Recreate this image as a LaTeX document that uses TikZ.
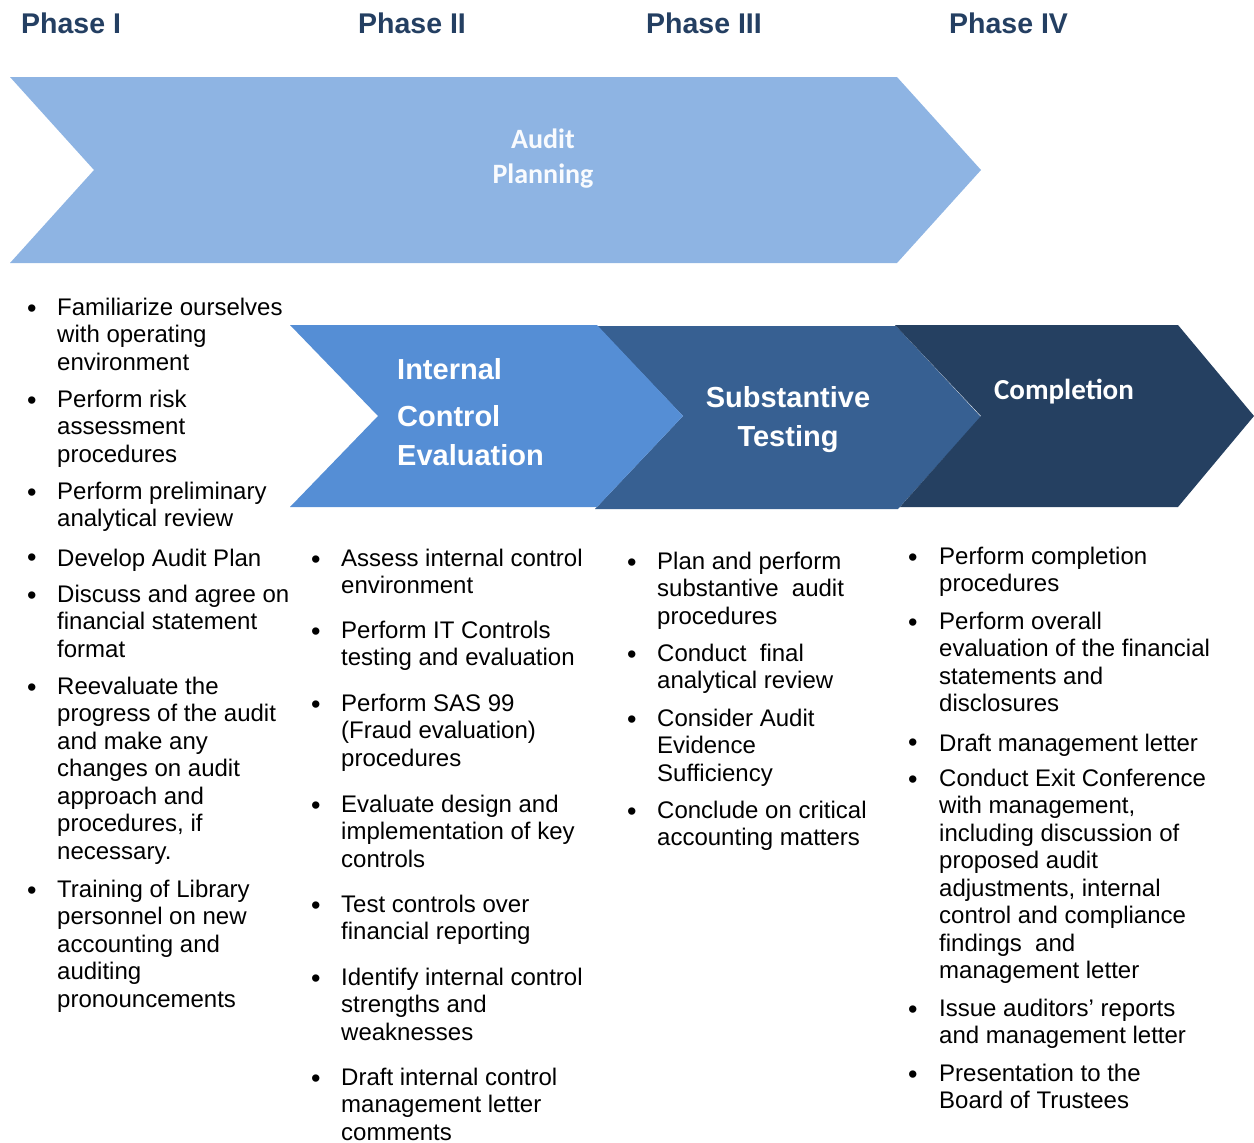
\documentclass[tikz,border=0pt]{standalone}
\usepackage{fontspec}
\setmainfont{Liberation Sans}
\newfontfamily\calibri{Carlito}
\usepackage{tikz}

\definecolor{plancol}{HTML}{8EB4E3}
\definecolor{icecol}{HTML}{558ED5}
\definecolor{subcol}{HTML}{376092}
\definecolor{compcol}{HTML}{254061}
\definecolor{phasecol}{HTML}{243F62}

\begin{document}
\begin{tikzpicture}[x=1pt, y=-1pt,
    phase/.style={anchor=base west, inner sep=0pt, text=phasecol, font=\fontsize{28.5}{34}\selectfont\bfseries},
    bul/.style={anchor=base west, inner sep=0pt, yshift=-2pt, xshift=1pt, font=\fontsize{27}{27.5}\selectfont},
    itm/.style={anchor=north west, yshift=17.25pt, xshift=1pt, inner sep=0pt, align=left, font=\fontsize{24}{27.5}\selectfont, execute at begin node=\strut},
    title/.style={inner sep=0pt, text=white, font=\fontsize{29}{39}\selectfont\bfseries}]
  \useasboundingbox (0,0) rectangle (1254,1143);

  %Define chevrons
  \fill[plancol] (10,77) -- (897,77) -- (981,170) -- (897,263) -- (10,263) -- (94,170) -- cycle;
  \fill[subcol] (597,326) -- (896,326) -- (981,417) -- (898,509) -- (595,509) -- (683,416) -- cycle;
  \fill[icecol] (290,325) -- (597,325) -- (683,416) -- (597,507) -- (290,507) -- (378,416) -- cycle;
  \fill[compcol] (895,325) -- (1178,325) -- (1254,416) -- (1178,507) -- (900,507) -- (981,416) -- cycle;

  % Chevron titles
  \node[title, align=center, text=white!95!plancol, font=\fontsize{28}{35}\selectfont\calibri\bfseries] (plan) at (543,159) {Audit\\Planning};
  \node[title, anchor=base west, align=left] (ice) at (397,465) {Internal\\[8pt]Control\\Evaluation};
  \node[title, align=center] (sub) at (788,420) {Substantive\\Testing};
  \node[title, font=\fontsize{29}{35}\selectfont\calibri\bfseries] (comp) at (1064,392) {Completion};

  % Phase titles
  \node[phase] (ph1) at (21,34) {Phase I};
  \node[phase] (ph2) at (358,34) {Phase II};
  \node[phase] (ph3) at (646,34) {Phase III};
  \node[phase] (ph4) at (949,34) {Phase IV};

  % Phase I tasks
  \node[bul] (b11) at (26,315) {\textbullet};
  \node[itm] (t11) at (56,315) {Familiarize ourselves\\with operating\\environment};
  \node[bul] (b12) at (26,407) {\textbullet};
  \node[itm] (t12) at (56,407) {Perform risk\\assessment\\procedures};
  \node[bul] (b13) at (26,499) {\textbullet};
  \node[itm] (t13) at (56,499) {Perform preliminary\\analytical review};
  \node[bul] (b14) at (26,564) {\textbullet};
  \node[itm] (t14) at (56,564) {Develop Audit Plan};
  \node[bul] (b15) at (26,602) {\textbullet};
  \node[itm] (t15) at (56,602) {Discuss and agree on\\financial statement\\format};
  \node[bul] (b16) at (26,694) {\textbullet};
  \node[itm] (t16) at (56,694) {Reevaluate the\\progress of the audit\\and make any\\changes on audit\\approach and\\procedures, if\\necessary.};
  \node[bul] (b17) at (26,897) {\textbullet};
  \node[itm] (t17) at (56,897) {Training of Library\\personnel on new\\accounting and\\auditing\\pronouncements};

  % Phase II tasks
  \node[bul] (b21) at (310,566) {\textbullet};
  \node[itm] (t21) at (340,566) {Assess internal control\\environment};
  \node[bul] (b22) at (310,638) {\textbullet};
  \node[itm] (t22) at (340,638) {Perform IT Controls\\testing and evaluation};
  \node[bul] (b23) at (310,711) {\textbullet};
  \node[itm] (t23) at (340,711) {Perform SAS 99\\(Fraud evaluation)\\procedures};
  \node[bul] (b24) at (310,812) {\textbullet};
  \node[itm] (t24) at (340,812) {Evaluate design and\\implementation of key\\controls};
  \node[bul] (b25) at (310,912) {\textbullet};
  \node[itm] (t25) at (340,912) {Test controls over\\financial reporting};
  \node[bul] (b26) at (310,985) {\textbullet};
  \node[itm] (t26) at (340,985) {Identify internal control\\strengths and\\weaknesses};
  \node[bul] (b27) at (310,1085) {\textbullet};
  \node[itm] (t27) at (340,1085) {Draft internal control\\management letter\\comments};

  % Phase III tasks
  \node[bul] (b31) at (626,569) {\textbullet};
  \node[itm] (t31) at (656,569) {Plan and perform\\substantive~ audit\\procedures};
  \node[bul] (b32) at (626,661) {\textbullet};
  \node[itm] (t32) at (656,661) {Conduct~ final\\analytical review};
  \node[bul] (b33) at (626,726) {\textbullet};
  \node[itm] (t33) at (656,726) {Consider Audit\\Evidence\\Sufficiency};
  \node[bul] (b34) at (626,818) {\textbullet};
  \node[itm] (t34) at (656,818) {Conclude on critical\\accounting matters};

  % Phase IV tasks
  \node[bul] (b41) at (907,564) {\textbullet};
  \node[itm] (t41) at (938,564) {Perform completion\\procedures};
  \node[bul] (b42) at (907,629) {\textbullet};
  \node[itm] (t42) at (938,629) {Perform overall\\evaluation of the financial\\statements and\\disclosures};
  \node[bul] (b43) at (907,749) {\textbullet};
  \node[itm] (t43) at (938,749) {Draft management letter};
  \node[bul] (b44) at (907,786) {\textbullet};
  \node[itm] (t44) at (938,786) {Conduct Exit Conference\\with management,\\including discussion of\\proposed audit\\adjustments, internal\\control and compliance\\findings~ and\\management letter};
  \node[bul] (b45) at (907,1016) {\textbullet};
  \node[itm] (t45) at (938,1016) {Issue auditors’ reports\\and management letter};
  \node[bul] (b46) at (907,1081) {\textbullet};
  \node[itm] (t46) at (938,1081) {Presentation to the\\Board of Trustees};

\end{tikzpicture}
\end{document}
